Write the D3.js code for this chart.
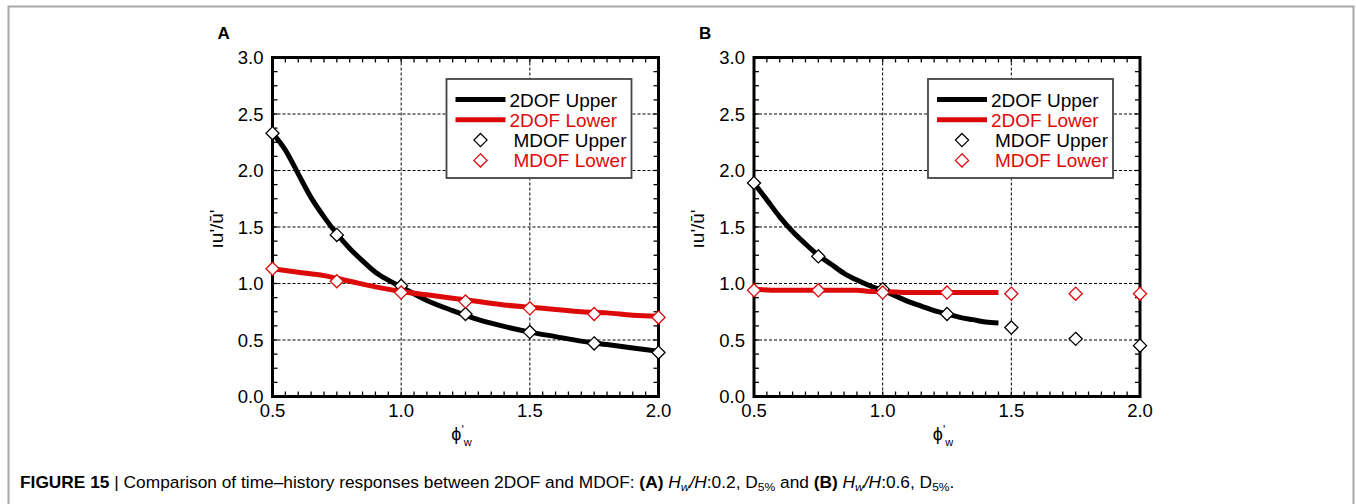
<!DOCTYPE html>
<html><head><meta charset="UTF-8">
<script src="https://d3js.org/d3.v7.min.js"></script>
<style>
  body { margin: 0; background: #fff; }
  text { font-family: "Liberation Sans", Arial, sans-serif; }
</style>
</head>
<body>
<script>
"use strict";
// ---- data ----
const mdofX = [0.5, 0.75, 1.0, 1.25, 1.5, 1.75, 2.0];

// panel A (Hw/H 0.2)
const upperA_x = [0.5,0.55,0.6,0.65,0.7,0.75,0.8,0.85,0.9,0.95,1.0,1.1,1.2,1.3,1.4,1.5,1.6,1.7,1.8,1.9,2.0];
const upperA_y = [2.33,2.18,1.97,1.76,1.59,1.44,1.31,1.20,1.10,1.03,0.97,0.85,0.76,0.68,0.62,0.57,0.53,0.49,0.46,0.43,0.40];
const lowerA_x = [0.5,0.6,0.7,0.8,0.9,1.0,1.1,1.2,1.3,1.4,1.5,1.6,1.7,1.8,1.9,2.0];
const lowerA_y = [1.13,1.10,1.07,1.02,0.97,0.93,0.90,0.87,0.84,0.81,0.79,0.77,0.75,0.74,0.72,0.71];
const mdofUpperA = [2.33, 1.43, 0.98, 0.73, 0.57, 0.47, 0.39];
const mdofLowerA = [1.13, 1.02, 0.92, 0.84, 0.78, 0.73, 0.70];

// panel B (Hw/H 0.6)
const upperB_x = [0.5,0.55,0.6,0.65,0.7,0.75,0.8,0.85,0.9,0.95,1.0,1.05,1.1,1.15,1.2,1.25,1.3,1.35,1.4,1.45];
const upperB_y = [1.89,1.74,1.59,1.46,1.35,1.25,1.17,1.09,1.03,0.98,0.94,0.89,0.84,0.80,0.76,0.73,0.70,0.68,0.66,0.65];
const lowerB_x = [0.5,0.6,0.7,0.8,0.9,0.95,1.0,1.1,1.2,1.3,1.45];
const lowerB_y = [0.95,0.94,0.94,0.94,0.94,0.93,0.93,0.92,0.92,0.92,0.92];
const mdofUpperB = [1.89, 1.24, 0.95, 0.73, 0.61, 0.51, 0.45];
const mdofLowerB = [0.94, 0.94, 0.92, 0.92, 0.91, 0.91, 0.91];

const xTicks = [0.5, 1.0, 1.5, 2.0];
const yTicks = [0, 0.5, 1.0, 1.5, 2.0, 2.5, 3.0];
const legendLabels = ["2DOF Upper", "2DOF Lower", "MDOF Upper", "MDOF Lower"];

const RED = "#dd0a0a";
const W = 1356, H = 504;

const svg = d3.select("body").append("svg")
    .attr("width", W).attr("height", H);

// figure frame (grey, open at the bottom)
svg.append("path")
    .attr("d", "M8.5,504 L8.5,6.5 L1353.5,6.5 L1353.5,504")
    .attr("fill", "none").attr("stroke", "#a8a8a8").attr("stroke-width", 2);

function zip(xs, ys) { return xs.map((d, i) => [d, ys[i]]); }

const diamond = d3.symbol().type(d3.symbolDiamond2).size(110);

function panel(left, letter, upper, lower, mU, mL) {
    const top = 57.5, bottom = 396.5, right = left + 386;
    const x = d3.scaleLinear().domain([0.5, 2.0]).range([left, right]);
    const y = d3.scaleLinear().domain([0, 3]).range([bottom, top]);
    const g = svg.append("g");

    // dashed grid at major ticks
    g.selectAll(".gx").data(xTicks.slice(1, -1)).enter().append("line")
        .attr("x1", d => x(d)).attr("x2", d => x(d))
        .attr("y1", top).attr("y2", bottom)
        .attr("stroke", "#000").attr("stroke-width", 1).attr("stroke-dasharray", "3,2");
    g.selectAll(".gy").data(yTicks.slice(1, -1)).enter().append("line")
        .attr("x1", left).attr("x2", right)
        .attr("y1", d => y(d)).attr("y2", d => y(d))
        .attr("stroke", "#000").attr("stroke-width", 1).attr("stroke-dasharray", "3,2");

    // inward ticks on all four sides
    const xMinor = d3.range(0.5, 2.0001, 0.05);
    const yMinor = d3.range(0, 3.0001, 0.125);
    const tk = g.append("g").attr("stroke", "#000").attr("stroke-width", 1.3);
    const len = 5;
    xMinor.forEach(v => {
        tk.append("line").attr("x1", x(v)).attr("x2", x(v)).attr("y1", bottom).attr("y2", bottom - len);
        tk.append("line").attr("x1", x(v)).attr("x2", x(v)).attr("y1", top).attr("y2", top + len);
    });
    yMinor.forEach(v => {
        tk.append("line").attr("y1", y(v)).attr("y2", y(v)).attr("x1", left).attr("x2", left + len);
        tk.append("line").attr("y1", y(v)).attr("y2", y(v)).attr("x1", right).attr("x2", right - len);
    });

    // axes frame
    g.append("rect").attr("x", left).attr("y", top)
        .attr("width", right - left).attr("height", bottom - top)
        .attr("fill", "none").attr("stroke", "#000").attr("stroke-width", 3);

    // tick labels
    g.selectAll(".xl").data(xTicks).enter().append("text")
        .attr("x", d => x(d)).attr("y", bottom + 20)
        .attr("text-anchor", "middle").attr("font-size", 18.5)
        .text(d => d.toFixed(1));
    g.selectAll(".yl").data(yTicks).enter().append("text")
        .attr("x", left - 9).attr("y", d => y(d) + 6.5)
        .attr("text-anchor", "end").attr("font-size", 18.5)
        .text(d => d.toFixed(1));

    // axis titles
    const xt = g.append("text").attr("x", x(1.25) - 4).attr("y", bottom + 43)
        .attr("font-size", 18).attr("text-anchor", "middle");
    xt.append("tspan").text("\u03D5");
    xt.append("tspan").attr("dy", -6).attr("font-size", 12).text("'");
    xt.append("tspan").attr("dy", 12).attr("font-size", 11).text("w");

    g.append("text")
        .attr("transform", `translate(${left - 50},${y(1.5) + 2}) rotate(-90)`)
        .attr("text-anchor", "middle").attr("font-size", 19)
        .text("\u0131u'/\u016B'");

    g.append("text").attr("x", left - 55).attr("y", 39)
        .attr("font-size", 17).attr("font-weight", "bold").text(letter);

    // lines
    const line = d3.line().curve(d3.curveMonotoneX).x(d => x(d[0])).y(d => y(d[1]));
    g.append("path").datum(upper).attr("d", line)
        .attr("fill", "none").attr("stroke", "#000").attr("stroke-width", 5)
        .attr("stroke-linejoin", "round");
    g.append("path").datum(lower).attr("d", line)
        .attr("fill", "none").attr("stroke", RED).attr("stroke-width", 5)
        .attr("stroke-linejoin", "round");

    // markers
    const mk = (vals, col) => g.selectAll(null).data(zip(mdofX, vals)).enter().append("path")
        .attr("d", diamond)
        .attr("transform", d => `translate(${x(d[0])},${y(d[1])})`)
        .attr("fill", "#fff").attr("stroke", col).attr("stroke-width", 1.3);
    mk(mU, "#000");
    mk(mL, RED);

    // legend
    const lx = left + 174, ly = 79;
    g.append("rect").attr("x", lx).attr("y", ly).attr("width", 185).attr("height", 99)
        .attr("fill", "#fff").attr("stroke", "#444").attr("stroke-width", 1.8);
    const rows = [99.5, 119.8, 140.1, 160.4];
    const cols = ["#000", RED, "#000", RED];
    legendLabels.forEach((lab, i) => {
        if (i < 2) {
            g.append("line").attr("x1", lx + 9).attr("x2", lx + 59)
                .attr("y1", rows[i]).attr("y2", rows[i])
                .attr("stroke", cols[i]).attr("stroke-width", 5);
        } else {
            g.append("path").attr("d", diamond)
                .attr("transform", `translate(${lx + 34},${rows[i]})`)
                .attr("fill", "#fff").attr("stroke", cols[i]).attr("stroke-width", 1.3);
        }
        g.append("text").attr("x", lx + (i < 2 ? 63 : 67)).attr("y", rows[i] + 7)
            .attr("font-size", 19).attr("fill", cols[i]).text(lab);
    });
}

panel(272.5, "A", zip(upperA_x, upperA_y), zip(lowerA_x, lowerA_y), mdofUpperA, mdofLowerA);
panel(754, "B", zip(upperB_x, upperB_y), zip(lowerB_x, lowerB_y), mdofUpperB, mdofLowerB);

// caption
const capG = svg.append("g");
const cap = capG.append("text").attr("x", 0).attr("y", 0)
    .attr("font-size", 16.5);
cap.append("tspan").attr("font-weight", "bold").text("FIGURE 15");
cap.append("tspan").text(" | Comparison of time\u2013history responses between 2DOF and MDOF: ");
cap.append("tspan").attr("font-weight", "bold").text("(A) ");
cap.append("tspan").attr("font-style", "italic").text("H");
cap.append("tspan").attr("font-style", "italic").attr("font-size", 11.5).attr("dy", 3).text("w");
cap.append("tspan").attr("font-style", "italic").attr("dy", -3).text("/H");
cap.append("tspan").text(":0.2, D");
cap.append("tspan").attr("font-size", 11.5).attr("dy", 3).text("5%");
cap.append("tspan").attr("dy", -3).text(" and ");
cap.append("tspan").attr("font-weight", "bold").text("(B) ");
cap.append("tspan").attr("font-style", "italic").text("H");
cap.append("tspan").attr("font-style", "italic").attr("font-size", 11.5).attr("dy", 3).text("w");
cap.append("tspan").attr("font-style", "italic").attr("dy", -3).text("/H");
cap.append("tspan").text(":0.6, D");
cap.append("tspan").attr("font-size", 11.5).attr("dy", 3).text("5%");
cap.append("tspan").attr("dy", -3).text(".");
// the original caption face is condensed: squeeze horizontally to its width
const capW = cap.node().getComputedTextLength();
capG.attr("transform", `translate(20,488) scale(${935 / capW},1)`);
</script>
</body>
</html>
